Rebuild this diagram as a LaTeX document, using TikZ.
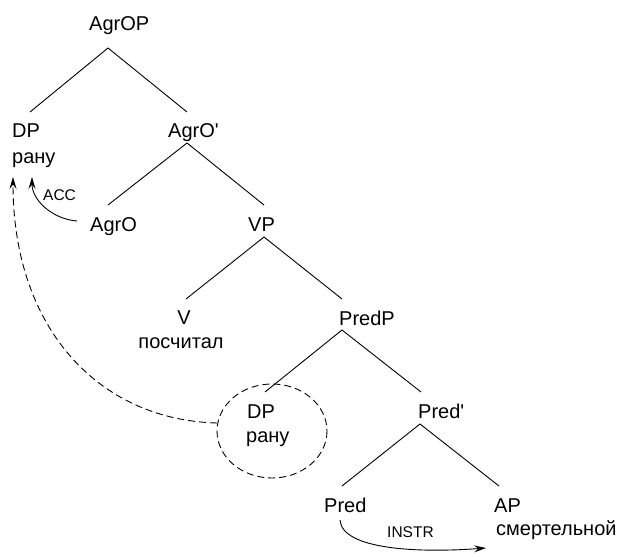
\documentclass[tikz,border=0pt]{standalone}
\usepackage{fontspec}
\setmainfont{Liberation Sans}
\usetikzlibrary{arrows.meta}
\begin{document}
\begin{tikzpicture}[x=1pt,y=-1pt,
  lbl/.style={inner sep=0pt,anchor=base west,font=\fontsize{20}{23}\selectfont},
  lblc/.style={inner sep=0pt,anchor=base,font=\fontsize{20}{23}\selectfont},
  small/.style={inner sep=0pt,anchor=base west,font=\fontsize{15.5}{18}\selectfont},
  branch/.style={line width=0.9pt},
  tip/.style={-{Stealth[length=12pt,width=7pt,inset=4.5pt]}},
  move/.style={line width=0.9pt,tip},
  trace/.style={line width=0.9pt,dash pattern=on 7pt off 4pt}]
\useasboundingbox (0,0) rectangle (624,557);
% labels
\node[lbl] (agrop) at (89,30) {AgrOP};
\node[lbl] (dp1) at (12,137) {DP};
\node[lbl] (dp1w) at (12,163) {рану};
\node[lbl] (agrobar) at (168,137) {AgrO\textquotesingle};
\node[lbl] (agro) at (90,231) {AgrO};
\node[lbl] (vp) at (248,231) {VP};
\node[lblc] (v) at (184,324) {V};
\node[lblc] (vw) at (181,348) {посчитал};
\node[lbl] (predp) at (339,325) {PredP};
\node[lbl] (dp2) at (247,418) {DP};
\node[lbl] (dp2w) at (246,442) {рану};
\node[lbl] (predbar) at (418,418) {Pred\textquotesingle};
\node[lbl] (pred) at (324,512) {Pred};
\node[lbl] (ap) at (494,512) {AP};
\node[lbl] (apw) at (496,535) {смертельной};
\node[small] (acc) at (43,200) {ACC};
\node[small] (instr) at (387,537) {INSTR};
% trace ellipse
\draw[trace] (272,431) ellipse [x radius=55, y radius=47];
% branch points
\coordinate (a0) at (108,48);
\coordinate (a0l) at (30,112);
\coordinate (a0r) at (187,112);
\coordinate (a1) at (187,143);
\coordinate (a1l) at (108,205);
\coordinate (a1r) at (264,205);
\coordinate (a2) at (264,237);
\coordinate (a2l) at (186,299);
\coordinate (a2r) at (342,299);
\coordinate (a3) at (342,330);
\coordinate (a3l) at (265,392);
\coordinate (a3r) at (421,392);
\coordinate (a4) at (420,424);
\coordinate (a4l) at (342,486);
\coordinate (a4r) at (499,486);
\draw[branch] (a0l) -- (a0) -- (a0r);
\draw[branch] (a1l) -- (a1) -- (a1r);
\draw[branch] (a2l) -- (a2) -- (a2r);
\draw[branch] (a3l) -- (a3) -- (a3r);
\draw[branch] (a4l) -- (a4) -- (a4r);
% movement arrows
\coordinate (accs) at (77,221);
\coordinate (acct) at (32,177);
\draw[move] (accs) .. controls (52,219) and (32,200) .. (acct);
\coordinate (trs) at (217,423);
\coordinate (trt) at (13,177);
\draw[trace,tip] (trs) .. controls (100,420) and (13,330) .. (trt);
\coordinate (ins) at (340,520);
\coordinate (int) at (486,548);
\draw[move] (ins) .. controls (342,550) and (420,553) .. (int);
\end{tikzpicture}
\end{document}
